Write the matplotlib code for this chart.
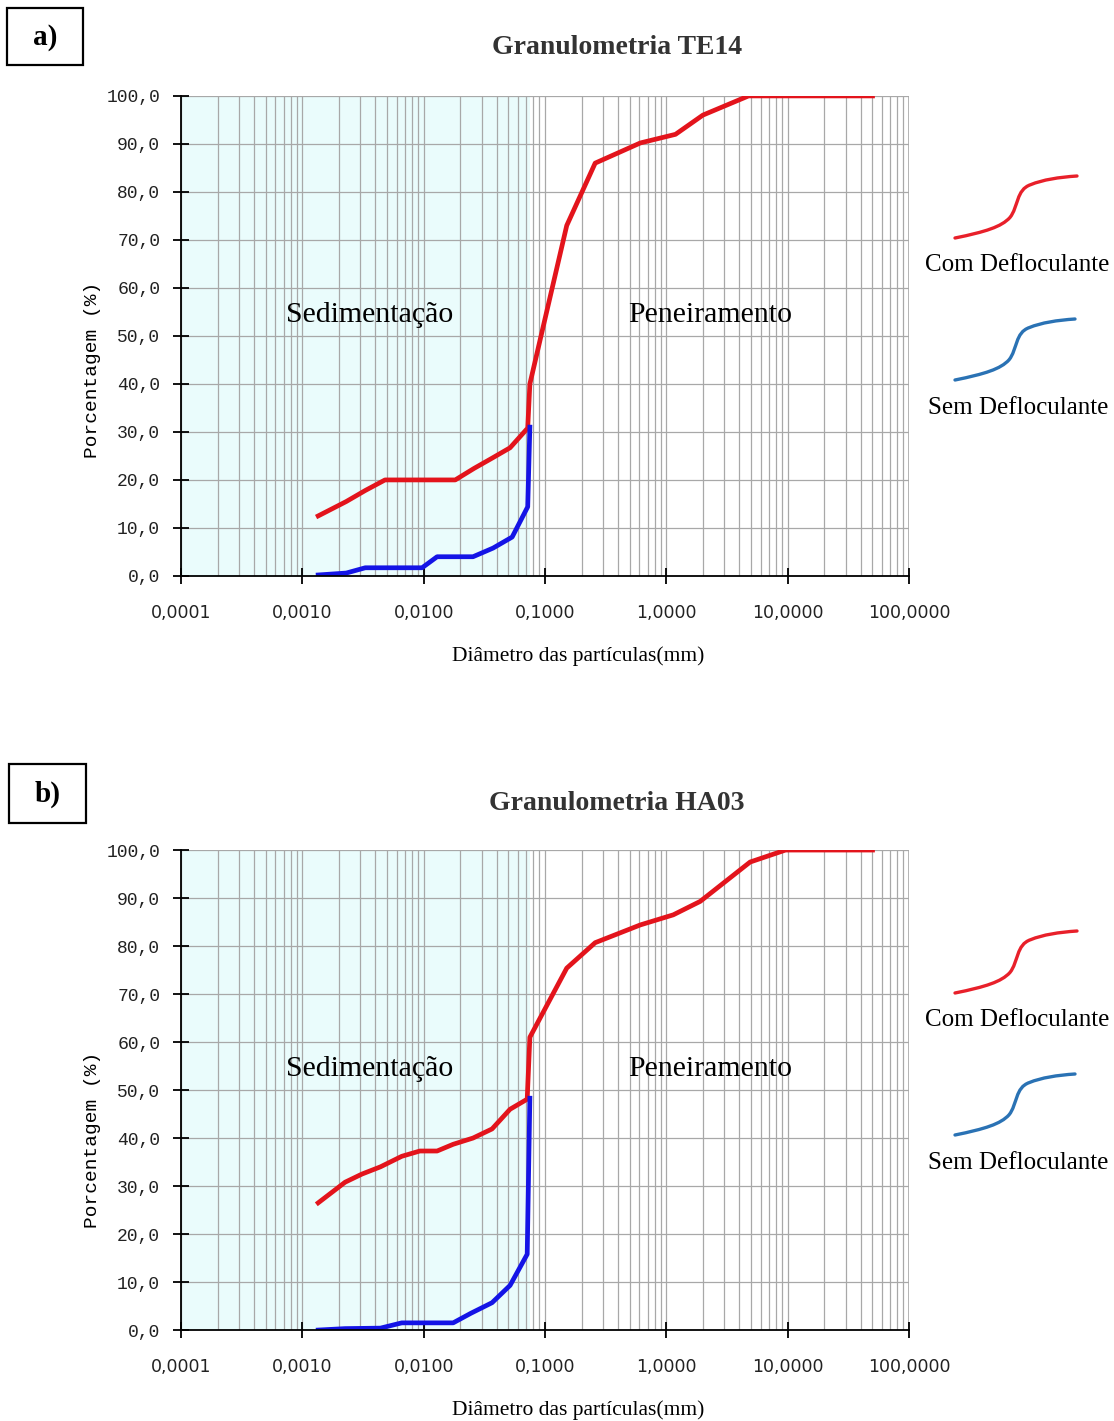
import matplotlib
matplotlib.use('Agg')
import matplotlib.pyplot as plt
from matplotlib.patches import Rectangle, PathPatch
from matplotlib.path import Path
import numpy as np

# granulometry curves, diameter in mm and % passing
te14_com_d = [0.00135, 0.0023, 0.0033, 0.0048, 0.0066, 0.0094, 0.0132, 0.0182, 0.026, 0.037, 0.0515, 0.072, 0.075,
              0.151, 0.259, 0.61, 1.19, 2.0, 4.76, 9.5, 50.0]
te14_com_p = [12.5, 15.5, 17.8, 20.0, 20.0, 20.0, 20.0, 20.0, 22.4, 24.6, 26.7, 30.8, 40.0,
              73.0, 86.0, 90.2, 92.0, 96.0, 100.0, 100.0, 100.0]
te14_sem_d = [0.00135, 0.0023, 0.0033, 0.0066, 0.0097, 0.0129, 0.0182, 0.0255, 0.0373, 0.0536, 0.072, 0.075]
te14_sem_p = [0.2, 0.6, 1.7, 1.7, 1.7, 4.0, 4.0, 4.0, 5.8, 8.1, 14.4, 31.0]

ha03_com_d = [0.00135, 0.00225, 0.0031, 0.0044, 0.0066, 0.0093, 0.0129, 0.0175, 0.0255, 0.0366, 0.0515, 0.0713, 0.075,
              0.151, 0.259, 0.61, 1.14, 1.9, 4.9, 9.6, 50.0]
ha03_com_p = [26.5, 30.8, 32.5, 34.0, 36.2, 37.3, 37.3, 38.7, 40.0, 41.9, 46.0, 48.1, 61.0,
              75.4, 80.7, 84.4, 86.5, 89.3, 97.5, 100.0, 100.0]
ha03_sem_d = [0.00135, 0.00225, 0.0044, 0.0066, 0.0093, 0.0129, 0.0175, 0.0245, 0.0366, 0.0515, 0.0713, 0.075]
ha03_sem_p = [0.0, 0.3, 0.4, 1.5, 1.5, 1.5, 1.5, 3.5, 5.7, 9.3, 15.8, 48.3]

x_ticks = [0.0001, 0.001, 0.01, 0.1, 1, 10, 100]
x_ticklabels = ['0,0001', '0,0010', '0,0100', '0,1000', '1,0000', '10,0000', '100,0000']
y_ticks = list(range(0, 101, 10))
y_ticklabels = ['%d,0' % v for v in y_ticks]
sieve_limit = 0.075  # boundary between sedimentation and sieving

RED = '#E3141C'
BLUE = '#1414E6'
SERIF = 'Liberation Serif'
MONO = 'Liberation Mono'

fig = plt.figure(figsize=(11.14, 14.21), dpi=100)
fig.patch.set_facecolor('white')


def granulometry_panel(rect, com_d, com_p, sem_d, sem_p, ylabel_y):
    ax = fig.add_axes(rect)
    ax.set_xscale('log')
    ax.set_xlim(1e-4, 100)
    ax.set_ylim(0, 100)
    ax.axvspan(1e-4, sieve_limit, color='#EAFCFC', zorder=0, lw=0)

    # grid: all log subdivisions vertically, every 10 % horizontally
    for dec in range(-4, 2):
        for m in range(1, 10):
            ax.axvline(m * 10.0 ** dec, color='#A8A8A8', lw=0.9, zorder=1)
    ax.axvline(100, color='#A8A8A8', lw=1.2, zorder=1)
    for v in y_ticks[1:]:
        ax.axhline(v, color='#A8A8A8', lw=0.9, zorder=1)

    ax.plot(com_d, com_p, color=RED, lw=3.4, solid_joinstyle='round', zorder=3)
    ax.plot(sem_d, sem_p, color=BLUE, lw=3.4, solid_joinstyle='round', zorder=4)

    ax.spines['top'].set_visible(False)
    ax.spines['right'].set_visible(False)
    for s in ('left', 'bottom'):
        ax.spines[s].set_linewidth(1.3)
        ax.spines[s].set_zorder(5)

    ax.set_xticks(x_ticks, labels=x_ticklabels)
    ax.xaxis.set_minor_locator(matplotlib.ticker.NullLocator())
    ax.set_yticks(y_ticks, labels=y_ticklabels)
    ax.tick_params(axis='x', direction='inout', length=12, width=1.3, pad=14, labelsize=12.5)
    ax.tick_params(axis='y', direction='inout', length=12, width=1.3, pad=9, labelsize=13)
    for lab in ax.get_xticklabels():
        lab.set_family('DejaVu Sans')
        lab.set_color('#222222')
    for lab in ax.get_yticklabels():
        lab.set_family(MONO)
        lab.set_color('#222222')

    ax.text(0.0036, 54.4, 'Sedimentação', family=SERIF, fontsize=21.5, ha='center', va='center', zorder=6)
    ax.text(2.3, 54.4, 'Peneiramento', family=SERIF, fontsize=21.5, ha='center', va='center', zorder=6)
    ax.text(0.545, -0.167, 'Diâmetro das partículas(mm)', transform=ax.transAxes,
            family=SERIF, fontsize=15.5, ha='center', va='center')
    ax.text(-0.122, ylabel_y, 'Porcentagem (%)', transform=ax.transAxes, rotation=90,
            family=MONO, fontsize=14, ha='center', va='center')
    return ax


granulometry_panel([0.1625, 0.5947, 0.6535, 0.3378], te14_com_d, te14_com_p, te14_sem_d, te14_sem_p, 0.43)
granulometry_panel([0.1625, 0.0640, 0.6535, 0.3378], ha03_com_d, ha03_com_p, ha03_sem_d, ha03_sem_p, 0.396)

# overlay in pixel units for titles, panel tags and the hand-drawn legend
ov = fig.add_axes([0, 0, 1, 1], zorder=10)
ov.set_xlim(0, 1114)
ov.set_ylim(1421, 0)
ov.axis('off')
ov.patch.set_alpha(0)

ov.text(617, 48, 'Granulometria TE14', family=SERIF, weight='bold', fontsize=20,
        ha='center', va='center', color='#333333')
ov.text(617, 803, 'Granulometria HA03', family=SERIF, weight='bold', fontsize=20,
        ha='center', va='center', color='#333333')

for (x0, y0, w, h, tag) in [(7, 8, 76, 57, 'a)'), (9, 764, 77, 59, 'b)')]:
    ov.add_patch(Rectangle((x0, y0), w, h, fill=False, ec='black', lw=1.6))
    ov.text(x0 + w / 2, y0 + h / 2 + 1, tag, family=SERIF, weight='bold', fontsize=21,
            ha='center', va='center')


def s_curve(x0, y0, w, h, color):
    # S-shaped legend glyph, (x0, y0) is the lower-left end in pixel units
    pts = [(0, 0), (0.25, 0.1), (0.38, 0.18), (0.45, 0.33),
           (0.52, 0.5), (0.5, 0.78), (0.62, 0.86),
           (0.72, 0.94), (0.85, 0.98), (1, 1)]
    verts = [(x0 + px * w, y0 - py * h) for px, py in pts]
    codes = [Path.MOVETO] + [Path.CURVE4] * 9
    ov.add_patch(PathPatch(Path(verts, codes), fill=False, ec=color, lw=2.4, capstyle='round'))


LEG_RED = '#E8202A'
LEG_BLUE = '#2A72B4'
for top in (0, 755):
    s_curve(955, 238 + top, 122, 62, LEG_RED)
    ov.text(1017, 265 + top, 'Com Defloculante', family=SERIF, fontsize=18, ha='center', va='center')
    s_curve(955, 380 + top, 120, 61, LEG_BLUE)
    ov.text(1018, 408 + top, 'Sem Defloculante', family=SERIF, fontsize=18, ha='center', va='center')

fig.savefig('out.png', dpi=100)
